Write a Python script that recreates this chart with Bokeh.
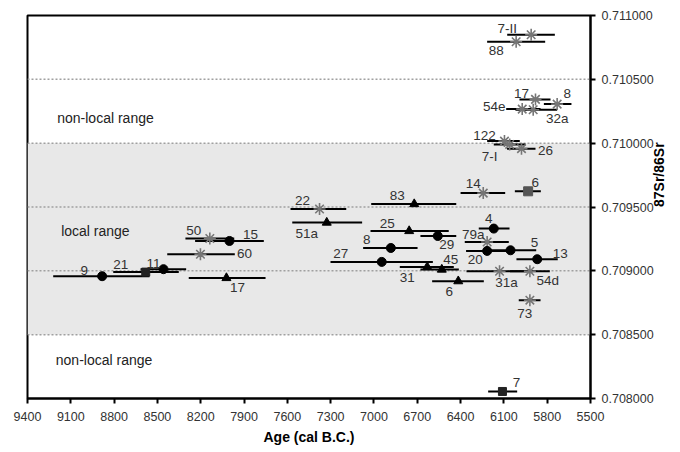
from bokeh.plotting import figure
from bokeh.models import (Range1d, FixedTicker, PrintfTickFormatter, BoxAnnotation,
                          Span, Label, Title, ColumnDataSource)
from bokeh.embed import file_html
from bokeh.resources import INLINE
from bokeh.core.properties import value
import math

# ---- data ----
sample_ids = ["7-II", "88", "17", "8", "54e", "32a", "122", "7-I", "26", "14",
              "6", "83", "22", "51a", "25", "29", "8", "27", "31", "45",
              "6", "4", "79a", "20", "5", "13", "31a", "54d", "73", "7",
              "50", "15", "60", "11", "21", "9", "17"]
marker_kind = ["star", "star", "star", "star", "star", "star", "star", "star", "star", "star",
               "square_gray", "triangle", "star", "triangle", "triangle", "circle", "circle", "circle", "triangle", "triangle",
               "triangle", "circle", "star", "circle", "circle", "circle", "star", "star", "star", "square_black",
               "star", "circle", "star", "circle", "square_black", "circle", "triangle"]
age_mid = [5911, 6015, 5881, 5731, 5973, 5897, 6096, 6060, 5978, 6243,
           5932, 6721, 7377, 7327, 6756, 6558, 6883, 6946, 6631, 6530,
           6416, 6170, 6216, 6216, 6054, 5869, 6130, 5920, 5920, 6110,
           8137, 8001, 8202, 8458, 8581, 8883, 8022]
age_old = [6077, 6216, 5992, 5823, 6084, 6020, 6216, 6170, 6078, 6400,
           6024, 7019, 7578, 7566, 7024, 6678, 7075, 7301, 6821, 6678,
           6597, 6274, 6371, 6362, 6232, 6013, 6359, 6058, 5997, 6209,
           8306, 8239, 8432, 8617, 8806, 9222, 8283]
age_young = [5747, 5814, 5777, 5632, 5846, 5731, 5990, 5950, 5881, 6091,
             5844, 6430, 7192, 7082, 6482, 6430, 6698, 6592, 6447, 6412,
             6239, 6061, 6066, 6070, 5876, 5727, 5901, 5782, 5846, 6008,
             7968, 7763, 7964, 8301, 8352, 8555, 7751]
sr_ratio = [0.710849, 0.710794, 0.710343, 0.710306, 0.710267, 0.710262, 0.710016, 0.709990, 0.709957, 0.709609,
            0.709623, 0.709523, 0.709484, 0.709378, 0.709312, 0.709273, 0.709179, 0.709070, 0.709030, 0.709010,
            0.708919, 0.709331, 0.709226, 0.709156, 0.709161, 0.709091, 0.708997, 0.708997, 0.708770, 0.708055,
            0.709253, 0.709234, 0.709130, 0.709013, 0.708990, 0.708958, 0.708944]

x_ticks = [9400, 9100, 8800, 8500, 8200, 7900, 7600, 7300, 7000, 6700, 6400, 6100, 5800, 5500]
y_ticks = [0.7080, 0.7085, 0.7090, 0.7095, 0.7100, 0.7105, 0.7110]
dotted_levels = [0.7085, 0.7090, 0.7095, 0.7100, 0.7105]
local_low, local_high = 0.7085, 0.7100

# label offsets in screen pixels (layout, not data)
lab_dx = [-24, -20, -14, 10, -28, 24, -20, -20, 24, -10,
          7, -17, -17, -20, -22, 9, -24, -41, -20, 9,
          -9, -5, -14, -12, 24, 23, 7, 18, -5, 14,
          -16, 21, 44, -10, -25, -18, 11]
lab_dy = [-6, 9, -6, -11, -3, 9, -6, 12, 2, -10,
          -9, -9, -9, 11, -8, 9, -8, -8, 10, -10,
          10, -10, -7, 9, -8, -6, 11, 9, 13, -9,
          -8, -6, -1, -6, -8, -6, 10]

FONT = "Liberation Sans"

p = figure(width=678, height=448,
           x_range=Range1d(9400, 5500), y_range=Range1d(0.708, 0.711),
           y_axis_location="right", output_backend="svg", toolbar_location=None,
           min_border_left=27, min_border_right=88, min_border_top=15, min_border_bottom=50)
p.grid.visible = False
p.outline_line_color = "black"
p.outline_line_width = 2
p.background_fill_color = "white"
p.border_fill_color = "white"

# local range band and dotted lines
p.add_layout(BoxAnnotation(bottom=local_low, top=local_high, fill_color="#e8e8e8",
                           fill_alpha=1.0, line_color=None, level="underlay"))
for lv in dotted_levels:
    p.add_layout(Span(location=lv, dimension="width", line_color="#a0a0a0",
                      line_dash="2 2", line_width=1.5, level="underlay"))

# axes
p.xaxis.ticker = FixedTicker(ticks=x_ticks)
p.yaxis.ticker = FixedTicker(ticks=y_ticks)
p.yaxis.formatter = PrintfTickFormatter(format="%.6f")
for ax in (p.xaxis[0], p.yaxis[0]):
    ax.axis_line_width = 2
    ax.axis_line_color = "black"
    ax.major_tick_line_width = 2
    ax.major_tick_line_color = "black"
    ax.major_tick_out = 5
    ax.major_tick_in = 0
    ax.minor_tick_line_color = None
    ax.major_label_text_font = FONT
    ax.major_label_text_font_size = "12.5px"
    ax.major_label_text_color = "#333333"
p.xaxis[0].major_label_standoff = 8
p.yaxis[0].major_label_standoff = 6

yax = p.yaxis[0]
yax.axis_label = "87Sr/86Sr"
yax.axis_label_text_font = FONT
yax.axis_label_text_font_size = "14px"
yax.axis_label_text_font_style = "bold"
yax.axis_label_text_color = "black"
yax.axis_label_standoff = 2
if "axis_label_orientation" in yax.properties():
    yax.axis_label_orientation = math.pi / 2

# x axis title, shifted right like the reference
p.add_layout(Title(text="Age (cal B.C.)", align="center", offset=30,
                   text_font=FONT, text_font_size="14px", text_font_style="bold",
                   text_color="black", standoff=6), "below")

# error bars
src = ColumnDataSource(dict(ids=sample_ids, kind=marker_kind, age=age_mid,
                            old=age_old, young=age_young, sr=sr_ratio,
                            dx=lab_dx, dy=lab_dy))
p.segment(x0="old", x1="young", y0="sr", y1="sr", source=src,
          line_color="black", line_width=2)

def subset(kind):
    idx = [i for i, k in enumerate(marker_kind) if k == kind]
    return ColumnDataSource(dict(age=[age_mid[i] for i in idx], sr=[sr_ratio[i] for i in idx]))

p.scatter("age", "sr", source=subset("star"), marker="asterisk", size=12,
          line_color="#767676", line_width=1.6)
p.scatter("age", "sr", source=subset("circle"), marker="circle", size=9,
          fill_color="black", line_color="black")
p.scatter("age", "sr", source=subset("triangle"), marker="triangle", size=9,
          fill_color="black", line_color="black")
p.scatter("age", "sr", source=subset("square_gray"), marker="square", size=9,
          fill_color="#555555", line_color="#555555")
p.scatter("age", "sr", source=subset("square_black"), marker="square", size=8,
          fill_color="#222222", line_color="#222222")

# sample labels
p.text(x="age", y="sr", text="ids", x_offset="dx", y_offset="dy", source=src,
       text_font=value(FONT), text_font_size="13.5px", text_color="#333333",
       text_align="center", text_baseline="middle")

# region texts
for (xx, yy, t) in [(9194, 0.710194, "non-local range"),
                    (9167, 0.709310, "local range"),
                    (9204, 0.708298, "non-local range")]:
    p.add_layout(Label(x=xx, y=yy, text=t, text_font=FONT, text_font_size="14px",
                       text_color="#222222", text_align="left", text_baseline="middle"))

open("out.html", "w").write(file_html(p, INLINE))
